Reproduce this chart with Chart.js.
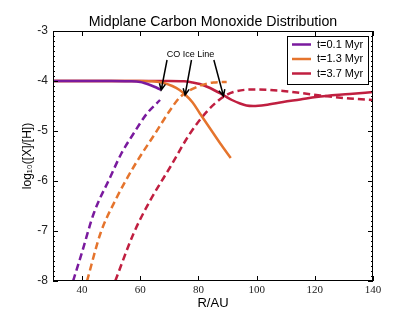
<!DOCTYPE html>
<html>
<head>
<meta charset="utf-8">
<script src="https://cdn.jsdelivr.net/npm/chart.js@4.4.1/dist/chart.umd.min.js"></script>
<style>
  html, body { margin: 0; padding: 0; background: #fff; }
</style>
</head>
<body>
<canvas id="coChart" width="415" height="312"></canvas>
<script>
// values
const purpleSolidX = [30, 50, 56, 60, 63.4, 65.5, 67.2];
const purpleSolidY = [-4, -4, -4.005, -4.02, -4.08, -4.13, -4.18];
const purpleDashX = [36.9, 40, 44, 49.7, 53.5, 57.7, 62.3, 66.8];
const purpleDashY = [-8, -7.42, -6.65, -5.92, -5.45, -5.05, -4.65, -4.38];

const orangeSolidX = [30, 60, 65, 68, 71, 73.5, 75.4, 78, 80.5, 84, 87.5, 91.1];
const orangeSolidY = [-4, -4, -4.01, -4.04, -4.1, -4.18, -4.27, -4.43, -4.65, -4.95, -5.25, -5.54];
const orangeDashX = [41.7, 46.3, 51.4, 57.7, 65.1, 70.3, 73.7, 79.4, 85.1, 89.7];
const orangeDashY = [-8, -7.05, -6.39, -5.72, -5.05, -4.58, -4.32, -4.12, -4.03, -4.02];

const redSolidX = [30, 70, 75, 78, 80.5, 84, 88.5, 91.5, 94.3, 96.5, 98.8, 103, 109.1, 115, 120.5, 132, 140];
const redSolidY = [-4, -4, -4.005, -4.03, -4.06, -4.14, -4.28, -4.38, -4.45, -4.49, -4.5, -4.48, -4.42, -4.37, -4.32, -4.26, -4.22];
const redDashX = [51.4, 57.7, 63.4, 70.3, 77.1, 83.4, 88.5, 92, 98.8, 109.1, 120.5, 132, 140];
const redDashY = [-8, -7.05, -6.39, -5.72, -5.05, -4.58, -4.32, -4.22, -4.17, -4.2, -4.28, -4.35, -4.38];

const seriesNames = ['t=0.1 Myr', 't=1.3 Myr', 't=3.7 Myr'];
const seriesColors = ['#7a1a9e', '#e5742d', '#c01f40'];

const xTicks = [40, 60, 80, 100, 120, 140];
const yTicks = [-8, -7, -6, -5, -4, -3];

const chartTitle = 'Midplane Carbon Monoxide Distribution';

// CO ice line annotation: label position, arrow tails and heads (data units)
const iceLabel = { x: 77.3, y: -3.48, text: 'CO Ice Line' };
const arrowTails = [[69.2, -3.58], [77.6, -3.58], [85.3, -3.58]];
const arrowHeads = [[67.2, -4.18], [75.4, -4.28], [88.6, -4.3]];

function pts(xs, ys) {
  return xs.map((x, i) => ({ x: x, y: ys[i] }));
}

function lineSet(label, xs, ys, color, dashed) {
  return {
    label: label,
    data: pts(xs, ys),
    borderColor: color,
    backgroundColor: color,
    borderWidth: 2.5,
    borderDash: dashed ? [7, 4] : [],
    pointRadius: 0,
    cubicInterpolationMode: 'monotone',
    fill: false
  };
}

const framePlugin = {
  id: 'frame',
  afterDraw(chart) {
    const ctx = chart.ctx;
    const a = chart.chartArea;
    const xs = chart.scales.x;
    const ys = chart.scales.y;
    ctx.save();

    // title, centred over the plot area
    ctx.fillStyle = '#000';
    ctx.font = '14.2px "Liberation Sans"';
    ctx.textAlign = 'center';
    ctx.textBaseline = 'middle';
    ctx.fillText(chartTitle, (a.left + a.right) / 2, 22);

    ctx.strokeStyle = '#000';
    ctx.lineWidth = 1;
    ctx.strokeRect(a.left + 0.5, a.top + 0.5, a.right - a.left - 1, a.bottom - a.top - 1);

    ctx.beginPath();
    xTicks.forEach(v => {
      const px = Math.round(xs.getPixelForValue(v)) + 0.5;
      ctx.moveTo(px, a.bottom); ctx.lineTo(px, a.bottom - 5);
      ctx.moveTo(px, a.top); ctx.lineTo(px, a.top + 5);
    });
    yTicks.forEach(v => {
      const py = Math.round(ys.getPixelForValue(v)) + 0.5;
      ctx.moveTo(a.left, py); ctx.lineTo(a.left + 5, py);
      ctx.moveTo(a.right, py); ctx.lineTo(a.right - 5, py);
    });
    for (let k = -80; k <= -30; k++) {
      if (k % 10 === 0) continue;
      const py = Math.round(ys.getPixelForValue(k / 10)) + 0.5;
      ctx.moveTo(a.left, py); ctx.lineTo(a.left + 2, py);
      ctx.moveTo(a.right, py); ctx.lineTo(a.right - 2, py);
    }
    ctx.stroke();

    // annotation
    ctx.font = '9px "Liberation Sans"';
    ctx.fillText(iceLabel.text, xs.getPixelForValue(iceLabel.x), ys.getPixelForValue(iceLabel.y));
    ctx.lineWidth = 1.5;
    arrowTails.forEach((t, i) => {
      const x0 = xs.getPixelForValue(t[0]), y0 = ys.getPixelForValue(t[1]);
      const x1 = xs.getPixelForValue(arrowHeads[i][0]), y1 = ys.getPixelForValue(arrowHeads[i][1]);
      const ang = Math.atan2(y1 - y0, x1 - x0);
      ctx.beginPath();
      ctx.moveTo(x0, y0); ctx.lineTo(x1, y1);
      ctx.moveTo(x1 - 7 * Math.cos(ang - 0.45), y1 - 7 * Math.sin(ang - 0.45));
      ctx.lineTo(x1, y1);
      ctx.lineTo(x1 - 7 * Math.cos(ang + 0.45), y1 - 7 * Math.sin(ang + 0.45));
      ctx.stroke();
    });

    // legend
    ctx.lineWidth = 1;
    ctx.fillStyle = '#fff';
    ctx.fillRect(287, 36, 81, 48);
    ctx.strokeRect(287.5, 36.5, 81, 48);
    ctx.font = '11px "Liberation Sans"';
    ctx.textAlign = 'left';
    seriesNames.forEach((name, i) => {
      const yy = 44.5 + i * 14.5;
      ctx.strokeStyle = seriesColors[i];
      ctx.lineWidth = 2.5;
      ctx.beginPath();
      ctx.moveTo(292, yy); ctx.lineTo(311, yy);
      ctx.stroke();
      ctx.fillStyle = '#000';
      ctx.fillText(name, 317, yy);
    });
    ctx.restore();
  }
};

const ctx = document.getElementById('coChart').getContext('2d');

Chart.defaults.font.family = 'Liberation Sans';
Chart.defaults.color = '#000';

const config = {
  type: 'line',
  data: {
    datasets: [
      lineSet(seriesNames[0], purpleSolidX, purpleSolidY, seriesColors[0], false),
      lineSet(seriesNames[0] + ' gas', purpleDashX, purpleDashY, seriesColors[0], true),
      lineSet(seriesNames[1], orangeSolidX, orangeSolidY, seriesColors[1], false),
      lineSet(seriesNames[1] + ' gas', orangeDashX, orangeDashY, seriesColors[1], true),
      lineSet(seriesNames[2], redSolidX, redSolidY, seriesColors[2], false),
      lineSet(seriesNames[2] + ' gas', redDashX, redDashY, seriesColors[2], true)
    ]
  },
  options: {
    responsive: false,
    animation: false,
    layout: { padding: { left: 0, right: 42, top: 31, bottom: 0 } },
    plugins: {
      legend: { display: false },
      tooltip: { enabled: false },
      title: { display: false }
    },
    scales: {
      x: {
        type: 'linear',
        min: 30,
        max: 140,
        afterBuildTicks(scale) { scale.ticks = xTicks.map(v => ({ value: v })); },
        afterFit(scale) { scale.height = 31; },
        grid: { display: false, drawTicks: false },
        border: { display: false },
        ticks: {
          padding: 3,
          font: { family: 'Liberation Serif', size: 11 },
          color: '#222',
          callback: v => String(v)
        },
        title: {
          display: true,
          text: 'R/AU',
          font: { size: 13 },
          padding: { top: 0, bottom: 1 }
        }
      },
      y: {
        min: -8,
        max: -3,
        afterBuildTicks(scale) { scale.ticks = yTicks.map(v => ({ value: v })); },
        afterFit(scale) { scale.width = 53; },
        grid: { display: false, drawTicks: false },
        border: { display: false },
        ticks: {
          padding: 5,
          font: { size: 12 },
          color: '#222',
          callback: v => String(v)
        },
        title: {
          display: true,
          text: 'log₁₀([X]/[H])',
          font: { size: 12 },
          padding: { top: 20, bottom: 0 }
        }
      }
    }
  },
  plugins: [framePlugin]
};

const coChart = new Chart(ctx, config);
</script>
</body>
</html>
